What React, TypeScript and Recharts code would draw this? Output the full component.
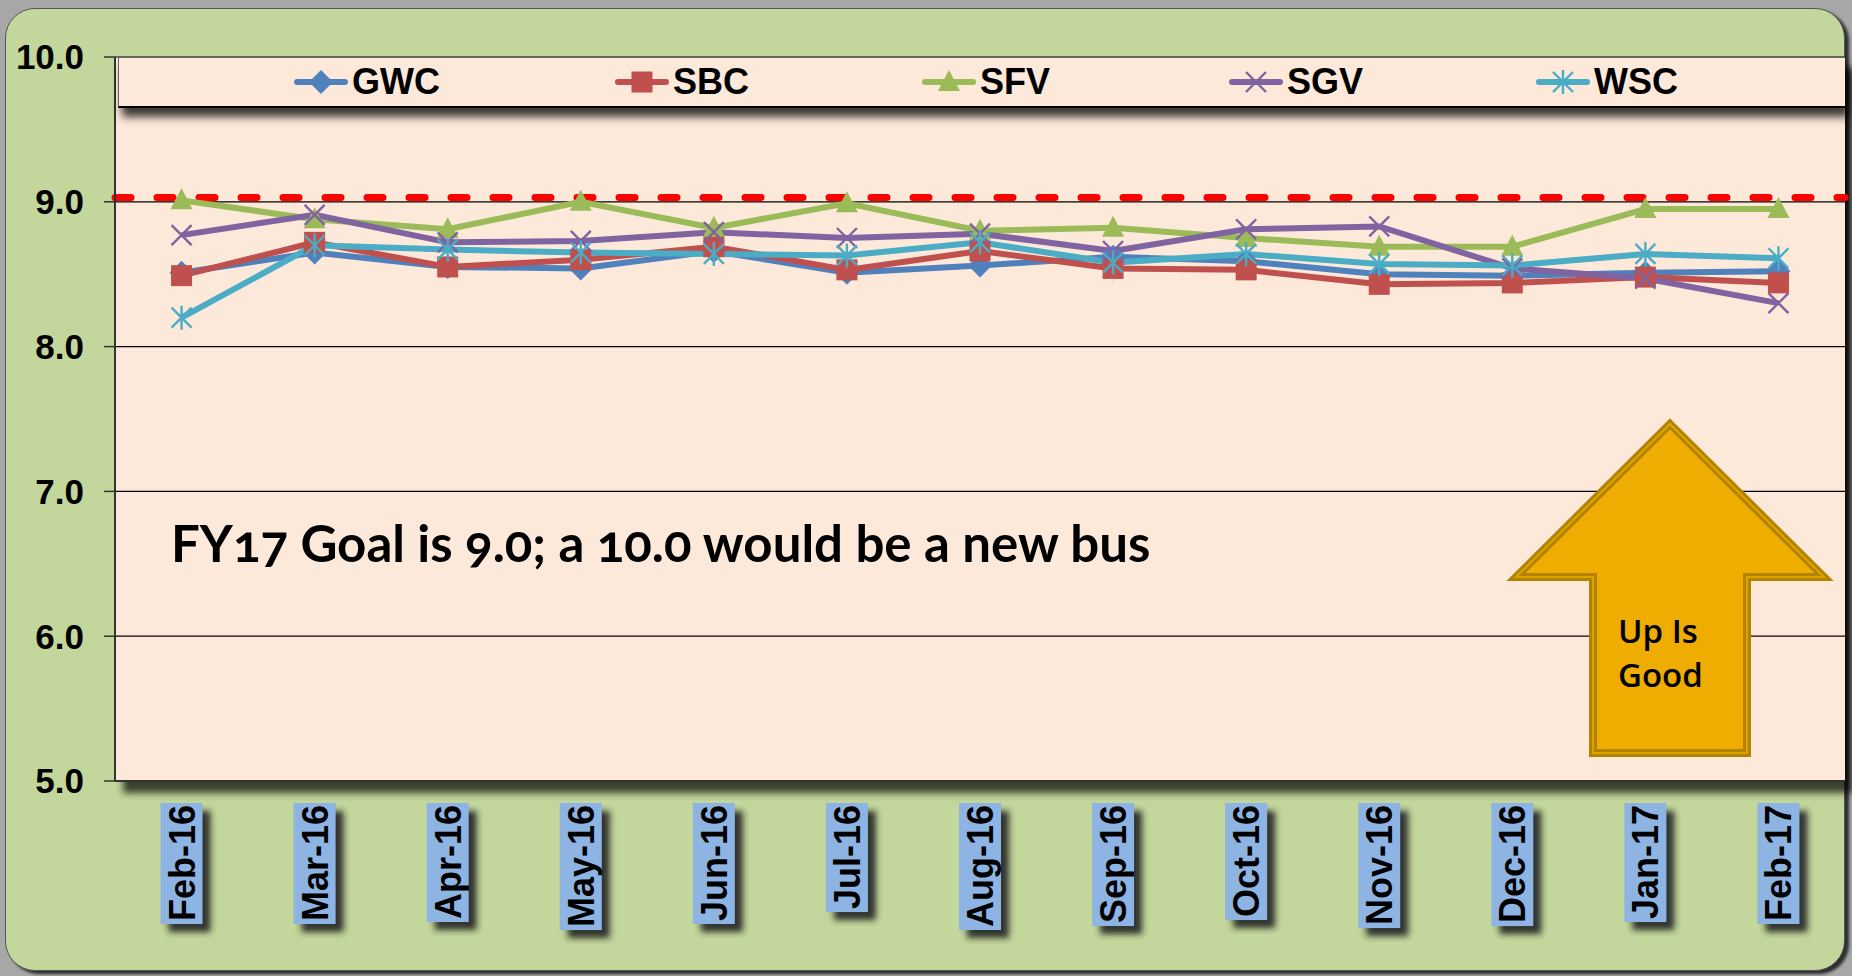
import React from 'react';
import { ComposedChart, Line, XAxis, YAxis, CartesianGrid, ReferenceLine } from 'recharts';

// ---- data ----
const months = ['Feb-16', 'Mar-16', 'Apr-16', 'May-16', 'Jun-16', 'Jul-16', 'Aug-16', 'Sep-16', 'Oct-16', 'Nov-16', 'Dec-16', 'Jan-17', 'Feb-17'];
const gwc = [8.51, 8.65, 8.55, 8.54, 8.66, 8.51, 8.56, 8.62, 8.59, 8.5, 8.49, 8.51, 8.52];
const sbc = [8.49, 8.72, 8.55, 8.6, 8.69, 8.53, 8.66, 8.54, 8.53, 8.43, 8.44, 8.48, 8.44];
const sfv = [9.01, 8.88, 8.81, 9.0, 8.82, 8.99, 8.8, 8.82, 8.75, 8.69, 8.69, 8.95, 8.95];
const sgv = [8.77, 8.91, 8.72, 8.73, 8.79, 8.75, 8.78, 8.66, 8.81, 8.83, 8.54, 8.47, 8.3];
const wsc = [8.2, 8.7, 8.67, 8.65, 8.64, 8.63, 8.72, 8.58, 8.64, 8.57, 8.56, 8.64, 8.61];
const yTicks = [5, 6, 7, 8, 9, 10];
const goal = 9.03;

const series = [
  { key: 'GWC', values: gwc, color: '#4F81BD', shape: 'diamond' },
  { key: 'SBC', values: sbc, color: '#C0504D', shape: 'square' },
  { key: 'SFV', values: sfv, color: '#9BBB59', shape: 'triangle' },
  { key: 'SGV', values: sgv, color: '#8064A2', shape: 'x' },
  { key: 'WSC', values: wsc, color: '#4BACC6', shape: 'star' },
];
// left offset of each legend entry inside the legend box
const legendOffsets = [175, 496, 803, 1110, 1417];

const data = months.map((m, i) => {
  const row: Record<string, any> = { month: m };
  series.forEach((s) => (row[s.key] = s.values[i]));
  return row;
});
const boundaryTicks = months.map((_, i) => i).concat(months.length);

const ARIAL = "'Liberation Sans', Arial, sans-serif";

const Marker = ({ shape, cx, cy, color }: { shape: string; cx: number; cy: number; color: string }) => {
  if (shape === 'diamond')
    return <path d={`M${cx},${cy - 12}L${cx + 12},${cy}L${cx},${cy + 12}L${cx - 12},${cy}Z`} fill={color} />;
  if (shape === 'square') return <rect x={cx - 10.5} y={cy - 10.5} width={21} height={21} fill={color} />;
  if (shape === 'triangle')
    return <path d={`M${cx},${cy - 12}L${cx + 11},${cy + 9}L${cx - 11},${cy + 9}Z`} fill={color} />;
  if (shape === 'x')
    return (
      <path
        d={`M${cx - 10},${cy - 10}L${cx + 10},${cy + 10}M${cx + 10},${cy - 10}L${cx - 10},${cy + 10}`}
        stroke={color}
        strokeWidth={2.4}
        fill="none"
      />
    );
  return (
    <path
      d={`M${cx - 10},${cy - 10}L${cx + 10},${cy + 10}M${cx + 10},${cy - 10}L${cx - 10},${cy + 10}M${cx},${cy - 12}L${cx},${cy + 12}`}
      stroke={color}
      strokeWidth={2.4}
      fill="none"
    />
  );
};

let measureCtx: CanvasRenderingContext2D | null = null;
const textWidth = (s: string) => {
  if (!measureCtx) measureCtx = document.createElement('canvas').getContext('2d');
  if (!measureCtx) return s.length * 19;
  measureCtx.font = `bold 36px ${ARIAL}`;
  return measureCtx.measureText(s).width;
};

const MonthTick = (props: any) => {
  const { x, y, payload } = props;
  const label = String(payload.value);
  const top = y + 22;
  const h = textWidth(label) + 5;
  const w = 42;
  return (
    <g>
      <rect x={x - w / 2 + 8} y={top + 8} width={w} height={h} fill="#222" opacity={0.9} filter="url(#tickShadow)" />
      <rect x={x - w / 2} y={top} width={w} height={h} fill="#8DB4E2" />
      <text
        transform={`translate(${x + 13},${top + 2}) rotate(-90)`}
        textAnchor="end"
        fontFamily={ARIAL}
        fontWeight="bold"
        fontSize={36}
        fill="#000"
      >
        {label}
      </text>
    </g>
  );
};

const ChartLegend = () => (
  <div
    style={{
      position: 'absolute',
      left: 118,
      top: 57,
      width: 1727,
      height: 51,
      boxSizing: 'border-box',
      background: '#FDE9D9',
      borderTop: '1.5px solid #666',
      borderLeft: '1.5px solid #666',
      borderBottom: '2px solid #000',
      boxShadow: '4px 9px 8px rgba(0,0,0,0.75)',
    }}
  >
    {series.map((s, i) => (
      <div
        key={s.key}
        style={{ position: 'absolute', left: legendOffsets[i], top: 0, height: 48, display: 'flex', alignItems: 'center' }}
      >
        <svg width={54} height={30}>
          <line x1={3} y1={15} x2={51} y2={15} stroke={s.color} strokeWidth={6} strokeLinecap="round" />
          <Marker shape={s.shape} cx={27} cy={15} color={s.color} />
        </svg>
        <span style={{ fontFamily: ARIAL, fontWeight: 'bold', fontSize: 36, marginLeft: 4, color: '#000' }}>{s.key}</span>
      </div>
    ))}
  </div>
);

export default function App() {
  return (
    <div style={{ position: 'absolute', left: 0, top: 0, width: 1852, height: 976, background: '#a7a7a7', overflow: 'hidden' }}>
      {/* green panel */}
      <div
        style={{
          position: 'absolute',
          left: 5,
          top: 8,
          width: 1840,
          height: 963,
          boxSizing: 'border-box',
          background: '#C3D69B',
          border: '1.5px solid #555',
          borderRadius: 30,
          boxShadow: '4px 3px 3px #2e2e2e',
        }}
      />
      {/* plot shadow */}
      <div
        style={{
          position: 'absolute',
          left: 115,
          top: 57,
          width: 1730,
          height: 724,
          background: '#FDE9D9',
          boxShadow: '8px 12px 7px rgba(0,0,0,0.7)',
        }}
      />
      <div style={{ position: 'absolute', left: 0, top: 0 }}>
        <ComposedChart width={1852} height={976} data={data} margin={{ top: 57, right: 7, left: 15, bottom: 45 }}>
          <CartesianGrid xAxisId="cat" vertical={false} horizontal stroke="#000" strokeWidth={1.2} fill="#FDE9D9" />
          <XAxis
            xAxisId="bounds"
            type="number"
            domain={[0, months.length]}
            ticks={boundaryTicks}
            tick={false}
            tickSize={11}
            tickLine={{ stroke: '#333', strokeWidth: 1.5 }}
            axisLine={false}
            height={0}
            allowDataOverflow
          />
          <XAxis
            xAxisId="cat"
            dataKey="month"
            scale="band"
            interval={0}
            height={150}
            tickSize={0}
            tickMargin={0}
            tickLine={false}
            axisLine={{ stroke: '#333', strokeWidth: 2 }}
            tick={<MonthTick />}
          />
          <YAxis
            domain={[5, 10]}
            ticks={yTicks}
            width={100}
            tickSize={11}
            tickMargin={20}
            tickFormatter={(v: number) => v.toFixed(1)}
            axisLine={{ stroke: '#333', strokeWidth: 2 }}
            tickLine={{ stroke: '#333', strokeWidth: 1.5 }}
            tick={{ fontFamily: ARIAL, fontWeight: 'bold', fontSize: 35, fill: '#000' }}
          />
          <ReferenceLine
            xAxisId="cat"
            y={goal}
            stroke="#FF0000"
            strokeWidth={7}
            strokeDasharray="16 26"
            strokeLinecap="round"
          />
          {series.map((s) => (
            <Line
              key={s.key}
              xAxisId="cat"
              dataKey={s.key}
              stroke={s.color}
              strokeWidth={6}
              isAnimationActive={false}
              dot={(p: any) => <Marker key={`${s.key}-${p.index}`} shape={s.shape} cx={p.cx} cy={p.cy} color={s.color} />}
              activeDot={false}
            />
          ))}
        </ComposedChart>
      </div>
      <ChartLegend />
      <svg width={1852} height={976} style={{ position: 'absolute', left: 0, top: 0, pointerEvents: 'none' }}>
        <defs>
          <filter id="tickShadow" x="-50%" y="-20%" width="200%" height="140%">
            <feGaussianBlur stdDeviation="3" />
          </filter>
        </defs>
        <text
          x={171}
          y={562}
          fontFamily="Lato, 'Open Sans', sans-serif"
          fontWeight="bold"
          fontSize={51}
          fill="#000"
          style={{ fontVariantNumeric: 'oldstyle-nums' }}
        >
          FY17 Goal is 9.0; a 10.0 would be a new bus
        </text>
        <g>
          <polygon
            points="1670,424 1824,577 1747,577 1747,753 1593,753 1593,577 1516,577"
            fill="#EEAD00"
            stroke="#B38300"
            strokeWidth={8}
          />
          <polygon
            points="1670,424 1824,577 1747,577 1747,753 1593,753 1593,577 1516,577"
            fill="none"
            stroke="#DDA300"
            strokeWidth={2}
          />
          <text fontFamily="'Open Sans', sans-serif" fontWeight={600} fontSize={33} fill="#000">
            <tspan x={1618} y={643}>Up Is</tspan>
            <tspan x={1618} y={687}>Good</tspan>
          </text>
        </g>
      </svg>
    </div>
  );
}
